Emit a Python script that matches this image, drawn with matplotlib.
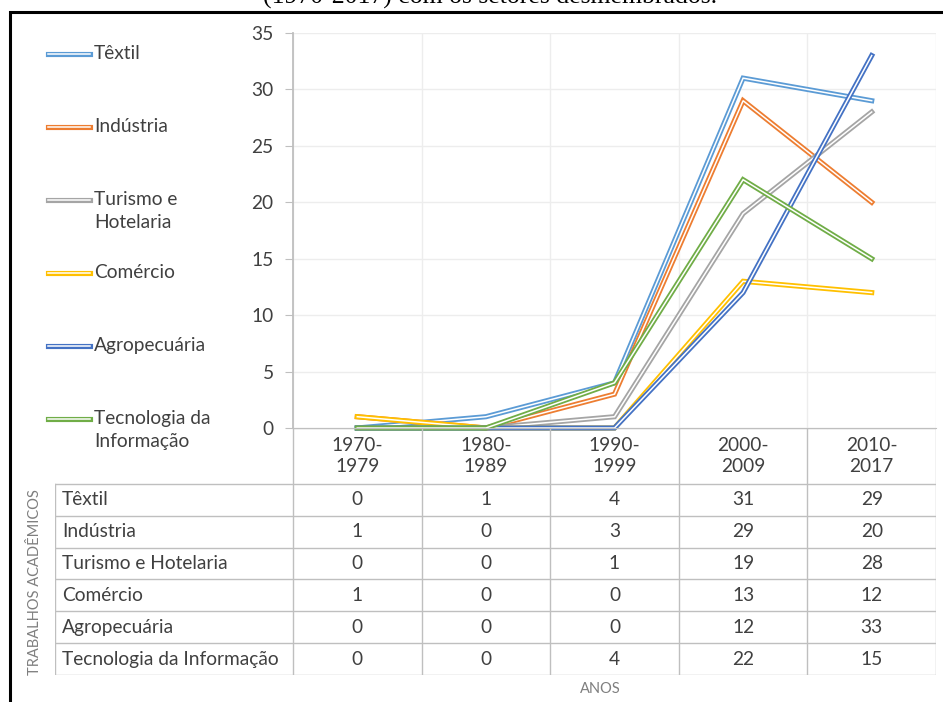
import matplotlib.pyplot as plt
import matplotlib.patheffects as pe
from matplotlib.lines import Line2D
from matplotlib.patches import Rectangle
import numpy as np

plt.rcParams['font.family'] = ['Lato', 'DejaVu Sans']

periodos = ['1970-\n1979', '1980-\n1989', '1990-\n1999', '2000-\n2009', '2010-\n2017']
setores = ['Têxtil', 'Indústria', 'Turismo e Hotelaria', 'Comércio',
           'Agropecuária', 'Tecnologia da Informação']
legenda = ['Têxtil', 'Indústria', 'Turismo e\nHotelaria', 'Comércio',
           'Agropecuária', 'Tecnologia da\nInformação']

textil = [0, 1, 4, 31, 29]
industria = [1, 0, 3, 29, 20]
turismo = [0, 0, 1, 19, 28]
comercio = [1, 0, 0, 13, 12]
agro = [0, 0, 0, 12, 33]
ti = [0, 0, 4, 22, 15]
series = [textil, industria, turismo, comercio, agro, ti]

cores = ['#5B9BD5', '#ED7D31', '#A5A5A5', '#FFC000', '#4472C4', '#70AD47']
txt = '#404040'
borda = '#BFBFBF'
fs = 13.8

W, H = 943, 702
fig = plt.figure(figsize=(W / 100, H / 100), dpi=100)

def fx(p):
    return p / W

def fy(p):
    return 1 - p / H

# double line look (Excel compound line)
def dupla(c):
    return [pe.Stroke(linewidth=3.7, foreground=c), pe.Normal()]

# plot area
ax = fig.add_axes([fx(293), fy(428), fx(936 - 293), (428 - 33) / H])
x = np.arange(len(periodos)) + 0.5
for vals, c in zip(series, cores):
    ax.plot(x, vals, color='white', lw=1.1, clip_on=False,
            solid_joinstyle='miter', path_effects=dupla(c))
ax.set_xlim(0, len(periodos))
ax.set_ylim(0, 35)
ax.set_yticks(range(0, 36, 5))
ax.set_xticks(range(0, len(periodos) + 1))
ax.set_xticklabels([])
ax.tick_params(axis='x', length=0)
ax.tick_params(axis='y', length=6, color=borda, labelsize=fs, labelcolor=txt, pad=8)
ax.grid(True, color='#EDEDED', lw=1)
ax.set_axisbelow(True)
for s in ['top', 'right']:
    ax.spines[s].set_visible(False)
ax.spines['left'].set_color(borda)
ax.spines['left'].set_linewidth(1.3)
ax.spines['bottom'].set_color(borda)

# data table
col_w = (936 - 293) / len(periodos)
lab_w = (293 - 55) / col_w
head_h = 56 / 32
nrow = len(setores)
tax = fig.add_axes([fx(55), fy(675), fx(936 - 55), (675 - 428) / H])
tax.set_xlim(-lab_w, len(periodos))
tax.set_ylim(0, nrow + head_h)
tax.axis('off')
for r in range(nrow + 1):
    tax.plot([-lab_w, len(periodos)], [r, r], color=borda, lw=1)
tax.plot([0, len(periodos)], [nrow + head_h] * 2, color=borda, lw=1)
tax.plot([-lab_w, -lab_w], [0, nrow], color=borda, lw=1)
for cidx in range(len(periodos) + 1):
    tax.plot([cidx, cidx], [0, nrow + head_h], color=borda, lw=1)
for j, p in enumerate(periodos):
    tax.text(j + 0.5, nrow + head_h / 2, p, ha='center', va='center',
             fontsize=fs, color=txt, linespacing=1.3)
for i, (nome, vals) in enumerate(zip(setores, series)):
    yc = nrow - i - 0.5
    tax.text(-lab_w + 0.055, yc, nome, ha='left', va='center', fontsize=fs, color=txt)
    for j, v in enumerate(vals):
        tax.text(j + 0.5, yc, str(v), ha='center', va='center', fontsize=fs, color=txt)

# legend
for i, (lab, c) in enumerate(zip(legenda, cores)):
    yl = 54 + 73 * i
    fig.add_artist(Line2D([fx(48), fx(90)], [fy(yl), fy(yl)], color='white', lw=1.1,
                          path_effects=dupla(c)))
    fig.text(fx(94), fy(yl - 9), lab, ha='left', va='top', fontsize=fs,
             color=txt, linespacing=1.4)

fig.text(fx(35), fy(582), 'TRABALHOS ACADÊMICOS', rotation=90, ha='center',
         va='center', fontsize=10.5, color='#7F7F7F')
fig.text(fx(600), fy(689), 'ANOS', ha='center', va='center', fontsize=10.5, color='#7F7F7F')

# frame and cut-off caption
fig.add_artist(Rectangle((fx(10), -0.1), 1.2, fy(12) + 0.1, fill=False,
                         edgecolor='black', lw=2.2, transform=fig.transFigure))
fig.text(fx(490), fy(3.5), '(1970-2017) com os setores desmembrados.',
         family='Liberation Serif', fontsize=18.5, ha='center', va='baseline')

plt.savefig('out.png', dpi=100)
